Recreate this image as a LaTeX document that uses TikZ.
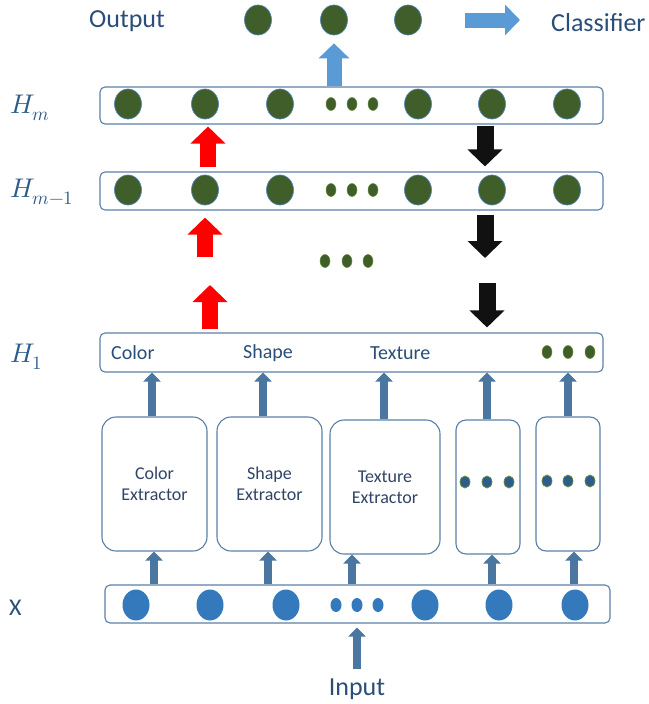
\documentclass[tikz,border=0pt]{standalone}
\usepackage{fontspec}
\usepackage{unicode-math}
\setmainfont{Carlito}
\setmathfont{Latin Modern Math}
\usetikzlibrary{shapes.geometric,arrows.meta,calc}
\definecolor{txtblue}{HTML}{2A4E78}
\definecolor{mathblue}{HTML}{2C5C8C}
\definecolor{exttxt}{HTML}{2F4466}
\definecolor{barline}{HTML}{5A7FA6}
\definecolor{dgreen}{HTML}{3F5E2A}
\definecolor{ringblue}{HTML}{5686B4}
\definecolor{inblue}{HTML}{3579BD}
\definecolor{boxdot}{HTML}{2E5D8C}
\definecolor{dotrim}{HTML}{6A8F3C}
\definecolor{steel}{HTML}{4A76A0}
\definecolor{lblue}{HTML}{5B9BD5}
\definecolor{ablack}{HTML}{111111}
\tikzset{
  bar/.style={draw=barline, line width=1.1pt, rounded corners=5pt, minimum width=503pt, minimum height=37pt, inner sep=0pt},
  gnode/.style={ellipse, fill=dgreen, draw=ringblue, line width=0.7pt, minimum width=27pt, minimum height=30pt, inner sep=0pt},
  gdot/.style={ellipse, fill=dgreen, draw=dotrim, line width=0.5pt, minimum width=10pt, minimum height=13pt, inner sep=0pt},
  xnode/.style={ellipse, fill=inblue, minimum width=27pt, minimum height=31pt, inner sep=0pt},
  xdot/.style={ellipse, fill=inblue, minimum width=11pt, minimum height=14pt, inner sep=0pt},
  bdot/.style={ellipse, fill=boxdot, draw=dotrim, line width=0.7pt, minimum width=10pt, minimum height=12pt, inner sep=0pt},
  extractor/.style={draw=barline, line width=1.1pt, rounded corners=14pt, align=center, inner sep=0pt,
    font=\fontsize{18}{21}\selectfont, text=exttxt},
  lbl/.style={text=txtblue, inner sep=0pt},
  hlbl/.style={text=mathblue, inner sep=0pt, anchor=west, font=\fontsize{27}{30}\selectfont},
  redarr/.style={draw=red, line width=16pt, -{Triangle[width=34pt,length=17pt]}},
  blkarr/.style={draw=ablack, line width=17pt, -{Triangle[width=34pt,length=17pt]}},
  bluearr/.style={draw=lblue, line width=15pt, -{Triangle[width=30pt,length=15pt]}},
  sarrow/.style={draw=steel, line width=8pt, -{Triangle[width=17pt,length=9pt]}},
}
\begin{document}
\begin{tikzpicture}[x=1pt, y=-1pt]
\useasboundingbox (0,0) rectangle (648,704);

% ---- output layer ----
\node[lbl, font=\fontsize{26}{30}\selectfont] (outlbl) at (127,21) {Output};
\node[gnode] (o1) at (258,20) {};
\node[gnode] (o2) at (334,20) {};
\node[gnode] (o3) at (408,20) {};
\node[lbl, font=\fontsize{26}{30}\selectfont, anchor=west] (cls) at (551,23) {Classifier};
\draw[bluearr, shorten <=57pt, shorten >=31pt] (o3.center) -- (cls.west |- o3.center);

% ---- hidden layer H_m ----
\node[bar] (hm) at (351.5,105.5) {};
\node[hlbl] (hmlbl) at (10,108) {$H_m$};
\foreach \x [count=\i] in {128,205,280,418,492,567} \node[gnode] (hmc\i) at (\x,104) {};
\foreach \x [count=\i] in {331,352,373} \node[gdot] (hmd\i) at (\x,104) {};
\draw[bluearr, shorten >=8pt] (hm.north -| o2) -- (o2.south);

% ---- hidden layer H_{m-1} ----
\node[bar, minimum height=38pt] (hmm) at (351.5,191) {};
\node[hlbl] (hmmlbl) at (10,192) {$H_{m-1}$};
\foreach \x [count=\i] in {128,205,280,418,492,567} \node[gnode] (hmmc\i) at (\x,190) {};
\foreach \x [count=\i] in {331,352,373} \node[gdot] (hmmd\i) at (\x,190) {};

% ---- skipped layers ----
\foreach \x [count=\i] in {325,347,368} \node[gdot] (md\i) at (\x,261) {};

% ---- hidden layer H_1 ----
\node[bar, minimum height=39pt] (h1) at (351.5,352.5) {};
\node[hlbl] (h1lbl) at (10,357) {$H_1$};
\node[lbl, font=\fontsize{20}{24}\selectfont, anchor=west] (fcol) at (111,353) {Color};
\node[lbl, font=\fontsize{20}{24}\selectfont, anchor=west] (fsha) at (243,353) {Shape};
\node[lbl, font=\fontsize{20}{24}\selectfont, anchor=west] (ftex) at (370,353) {Texture};
\foreach \x [count=\i] in {547,568,590} \node[gdot] (h1d\i) at (\x,352) {};

% ---- upward (red) and downward (black) flows ----
\coordinate (r1) at (208,0);
\coordinate (r2t) at (205,257);
\coordinate (r3h) at (210,285);
\coordinate (b1) at (485,0);
\coordinate (b2h) at (485,258);
\coordinate (b3t) at (487,283);
\draw[redarr, shorten <=4pt, shorten >=2pt] (hmm.north -| r1) -- (hm.south -| r1);
\draw[redarr, shorten >=7pt] (r2t) -- (hmm.south -| r2t);
\draw[redarr, shorten <=3pt] (h1.north -| r3h) -- (r3h);
\draw[blkarr, shorten <=1pt, shorten >=5pt] (hm.south -| b1) -- (hmm.north -| b1);
\draw[blkarr, shorten <=4pt] (hmm.south -| b2h) -- (b2h);
\draw[blkarr, shorten >=5pt] (b3t) -- (h1.north -| b3t);

% ---- feature extractors ----
\node[extractor, minimum width=105pt, minimum height=134pt] (ecol) at (154.5,484) {Color\\Extractor};
\node[extractor, minimum width=105pt, minimum height=134pt] (esha) at (269.5,484) {Shape\\Extractor};
\node[extractor, minimum width=110pt, minimum height=134pt] (etex) at (385,487) {Texture\\Extractor};
\node[extractor, minimum width=64pt, minimum height=134pt, rounded corners=10pt] (eb4) at (488,487) {};
\node[extractor, minimum width=64pt, minimum height=134pt, rounded corners=10pt] (eb5) at (568,484) {};
\foreach \x [count=\i] in {465,487,509} \node[bdot] (e4d\i) at (\x,482) {};
\foreach \x [count=\i] in {547,568,590} \node[bdot] (e5d\i) at (\x,481) {};

% extractor outputs into H_1
\coordinate (u1) at (152,0);
\coordinate (u2) at (263,0);
\coordinate (u3) at (384,0);
\coordinate (u4) at (487,0);
\coordinate (u5) at (568,0);
\draw[sarrow] (ecol.north -| u1) -- (h1.south -| u1);
\draw[sarrow] (esha.north -| u2) -- (h1.south -| u2);
\draw[sarrow] (etex.north -| u3) -- (h1.south -| u3);
\draw[sarrow] (eb4.north -| u4) -- (h1.south -| u4);
\draw[sarrow] (eb5.north -| u5) -- (h1.south -| u5);

% ---- input layer X ----
\node[bar, minimum width=505pt, minimum height=38pt] (xb) at (357.5,604) {};
\node[lbl, font=\fontsize{24}{28}\selectfont, anchor=west] (xlbl) at (9,608) {X};
\foreach \x [count=\i] in {136,210,286,425,499,575} \node[xnode] (xc\i) at (\x,605) {};
\foreach \x [count=\i] in {336,357,378} \node[xdot] (xd\i) at (\x,605) {};

% input into the extractors
\coordinate (v1) at (154,0);
\coordinate (v2) at (268,0);
\coordinate (v3) at (352,0);
\coordinate (v4) at (492,0);
\coordinate (v5) at (574,0);
\draw[sarrow] (xb.north -| v1) -- (ecol.south -| v1);
\draw[sarrow] (xb.north -| v2) -- (esha.south -| v2);
\draw[sarrow] (xb.north -| v3) -- (etex.south -| v3);
\draw[sarrow] (xb.north -| v4) -- (eb4.south -| v4);
\draw[sarrow] (xb.north -| v5) -- (eb5.south -| v5);

% raw input
\node[lbl, font=\fontsize{26}{30}\selectfont] (inlbl) at (357,689) {Input};
\draw[sarrow, shorten <=9pt, shorten >=4pt] (inlbl.north) -- (xb.south -| inlbl.north);
\end{tikzpicture}
\end{document}
